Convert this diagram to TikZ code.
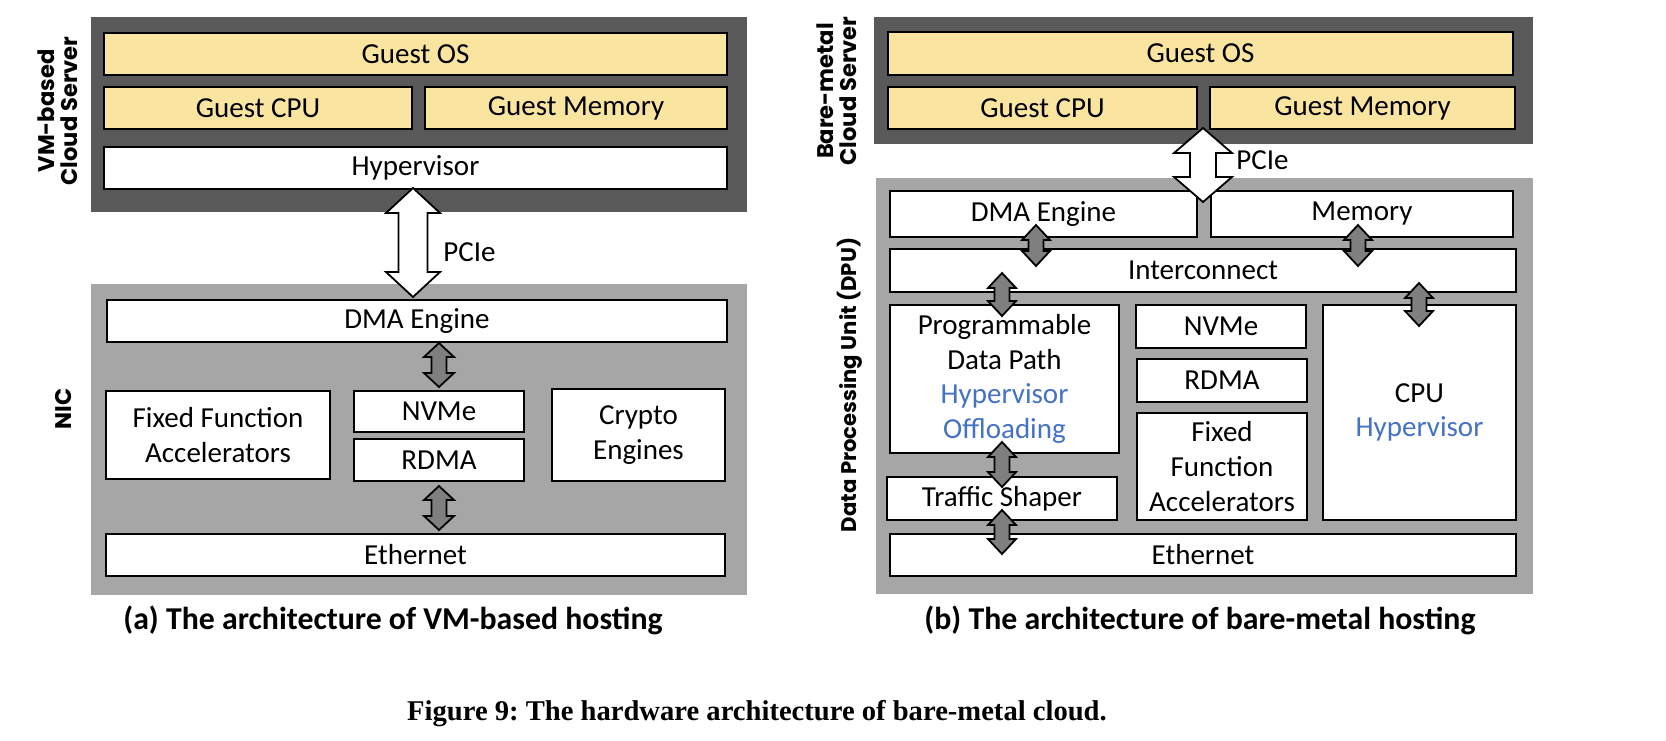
\documentclass[tikz,border=0pt]{standalone}
\usepackage{fontspec}
\setmainfont{Carlito}
\newfontfamily\labfont{Poppins}
\newfontfamily\capfont{Liberation Serif}
\usetikzlibrary{calc}
\definecolor{darkbg}{HTML}{595959}
\definecolor{lightbg}{HTML}{A6A6A6}
\definecolor{guest}{HTML}{F9E5A0}
\definecolor{arrgray}{HTML}{7F7F7F}
\definecolor{hvblue}{HTML}{4472C4}
\tikzset{
  boxbase/.style={draw=black, line width=1.1pt, inner sep=0pt, align=center,
    font={\fontsize{14.5}{17.35}\selectfont}},
  wbox/.style={boxbase, fill=white},
  ybox/.style={boxbase, fill=guest},
  darkpanel/.style={fill=darkbg, draw=none, inner sep=0pt},
  lightpanel/.style={fill=lightbg, draw=none, inner sep=0pt},
  sidelabel/.style={rotate=90, align=center, inner sep=0pt,
    font={\labfont\bfseries\fontsize{11.3}{11.6}\selectfont}},
  dpulabel/.style={rotate=90, align=center, inner sep=0pt,
    font={\labfont\bfseries\fontsize{10.6}{10.5}\selectfont}},
  subcap/.style={inner sep=0pt, font={\bfseries\fontsize{15.9}{18}\selectfont}},
  figcap/.style={inner sep=0pt, font={\capfont\bfseries\frenchspacing\fontsize{14.3}{16}\selectfont}},
  pcielabel/.style={inner sep=0pt, anchor=west, font={\fontsize{14.5}{17}\selectfont}},
  arrowline/.style={draw=black, line width=0.9pt, line join=miter},
}
% box from corners (x1,y1)-(x2,y2) in pixel units
\newcommand{\bx}[7]{%
  \pgfmathsetmacro\bxcx{(#2+#4)/2}%
  \pgfmathsetmacro\bxcy{(#3+#5)/2}%
  \pgfmathsetmacro\bxw{(#4-#2)*0.5}%
  \pgfmathsetmacro\bxh{(#5-#3)*0.5}%
  \node[#6, minimum width=\bxw pt, minimum height=\bxh pt] (#1) at (\bxcx,\bxcy) {#7};}
% double block arrow between two named coordinates (top, bottom)
% #3 head half width, #4 shaft half width, #5 head length (px), #6 fill
\newcommand{\dbl}[6]{%
  \draw[arrowline, fill=#6] let \p1=(#1), \p2=(#2) in
    (\x1,\y1) -- (\x1+#3*0.5pt,\y1-#5*0.5pt) -- (\x1+#4*0.5pt,\y1-#5*0.5pt)
    -- (\x1+#4*0.5pt,\y2+#5*0.5pt) -- (\x1+#3*0.5pt,\y2+#5*0.5pt) -- (\x1,\y2)
    -- (\x1-#3*0.5pt,\y2+#5*0.5pt) -- (\x1-#4*0.5pt,\y2+#5*0.5pt)
    -- (\x1-#4*0.5pt,\y1-#5*0.5pt) -- (\x1-#3*0.5pt,\y1-#5*0.5pt) -- cycle;}
\begin{document}
\begin{tikzpicture}[x=0.5pt, y=-0.5pt]
\useasboundingbox (0,0) rectangle (1666,740);
\fill[white] (0,0) rectangle (1666,740);

% ---------------- (a) VM-based ----------------
\bx{srvA}{91}{17}{747}{212}{darkpanel}{}
\bx{gosA}{104}{33}{727}{75}{ybox}{Guest OS}
\bx{gcpuA}{104}{87}{412}{129}{ybox}{Guest CPU}
\bx{gmemA}{425}{87}{727}{129}{ybox}{Guest Memory}
\bx{hypA}{104}{147}{727}{189}{wbox}{Hypervisor}

\bx{nicA}{91}{284}{747}{595}{lightpanel}{}
\bx{dmaA}{107}{300}{727}{342}{wbox}{DMA Engine}
\bx{ffaA}{106}{391}{330}{479}{wbox}{Fixed Function\\Accelerators}
\bx{nvmeA}{354}{391}{524}{432}{wbox}{NVMe}
\bx{rdmaA}{354}{439}{524}{481}{wbox}{RDMA}
\bx{cryA}{552}{389}{725}{481}{wbox}{Crypto\\Engines}
\bx{ethA}{106}{534}{725}{576}{wbox}{Ethernet}

\node[sidelabel] (lblA) at (58,111) {VM-based\\Cloud Server};
\node[sidelabel] (lblNIC) at (64,409) {NIC};

\coordinate (pA1) at (413,188);
\coordinate (pA2) at (413,297);
\dbl{pA1}{pA2}{27}{14.5}{25}{white}
\node[pcielabel] (pcieA) at (443,252) {PCIe};

\coordinate (a1t) at (439,343);
\coordinate (a1b) at (439,387);
\dbl{a1t}{a1b}{15}{7.5}{14}{arrgray}
\coordinate (a2t) at (439,486);
\coordinate (a2b) at (439,530);
\dbl{a2t}{a2b}{15}{7.5}{14}{arrgray}

\node[subcap] (capA) at (393,620) {(a) The architecture of VM-based hosting};

% ---------------- (b) bare-metal ----------------
\bx{srvB}{874}{17}{1533}{144}{darkpanel}{}
\bx{gosB}{888}{32}{1513}{75}{ybox}{Guest OS}
\bx{gcpuB}{888}{87}{1197}{129}{ybox}{Guest CPU}
\bx{gmemB}{1210}{87}{1515}{129}{ybox}{Guest Memory}

\bx{dpuB}{876}{178}{1533}{594}{lightpanel}{}
\bx{dmaB}{890}{191}{1197}{237}{wbox}{DMA Engine}
\bx{memB}{1211}{191}{1513}{237}{wbox}{Memory}
\bx{icB}{890}{249}{1516}{292}{wbox}{Interconnect}
\bx{pdpB}{890}{305}{1119}{453}{wbox}{Programmable\\Data Path\\\textcolor{hvblue}{Hypervisor}\\\textcolor{hvblue}{Offloading}}
\bx{nvmeB}{1136}{305}{1306}{348}{wbox}{NVMe}
\bx{rdmaB}{1137}{359}{1307}{402}{wbox}{RDMA}
\bx{ffaB}{1137}{413}{1307}{520}{wbox}{Fixed\\Function\\Accelerators}
\bx{cpuB}{1323}{305}{1516}{520}{wbox}{CPU\\\textcolor{hvblue}{Hypervisor}}
\bx{tsB}{887}{477}{1117}{520}{wbox}{Traffic Shaper}
\bx{ethB}{890}{534}{1516}{576}{wbox}{Ethernet}

\node[sidelabel] (lblB) at (837,91) {Bare-metal\\Cloud Server};
\node[dpulabel] (lblDPU) at (850,385) {Data Processing Unit (DPU)};

\coordinate (pB1) at (1203,128);
\coordinate (pB2) at (1203,202);
\dbl{pB1}{pB2}{29}{13}{25}{white}
\node[pcielabel] (pcieB) at (1236,160) {PCIe};

\coordinate (b1t) at (1036,225);
\coordinate (b1b) at (1036,266);
\dbl{b1t}{b1b}{14}{7.5}{15}{arrgray}
\coordinate (b2t) at (1358,225);
\coordinate (b2b) at (1358,266);
\dbl{b2t}{b2b}{14}{7.5}{15}{arrgray}
\coordinate (b3t) at (1002,273);
\coordinate (b3b) at (1002,316);
\dbl{b3t}{b3b}{14}{7.5}{15}{arrgray}
\coordinate (b4t) at (1419,283);
\coordinate (b4b) at (1419,326);
\dbl{b4t}{b4b}{14}{7.5}{15}{arrgray}
\coordinate (b5t) at (1002,442);
\coordinate (b5b) at (1002,487);
\dbl{b5t}{b5b}{14}{7.5}{15}{arrgray}
\coordinate (b6t) at (1002,510);
\coordinate (b6b) at (1002,554);
\dbl{b6t}{b6b}{14}{7.5}{15}{arrgray}

\node[subcap] (capB) at (1200,620) {(b) The architecture of bare-metal hosting};

\node[figcap] (fig) at (757,714) {Figure 9: The hardware architecture of bare-metal cloud.};
\end{tikzpicture}
\end{document}
